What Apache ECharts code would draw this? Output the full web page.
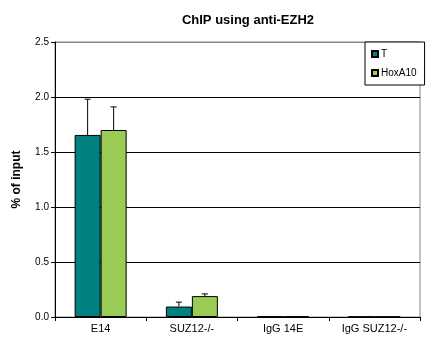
<!DOCTYPE html>
<html><head><meta charset="utf-8">
<script src="https://cdn.jsdelivr.net/npm/echarts@6/dist/echarts.min.js"></script>
<style>html,body{margin:0;padding:0;background:#fff}#c{width:440px;height:348px}</style>
</head><body><div id="c"></div>
<script>
const categories = ['E14', 'SUZ12-/-', 'IgG 14E', 'IgG SUZ12-/-'];
const seriesNames = ['T', 'HoxA10'];
const valuesT = [1.655, 0.095, 0.005, 0.004];
const valuesHox = [1.70, 0.19, 0.005, 0.004];
const errTop_T = [1.98, 0.135, null, null];
const errTop_Hox = [1.91, 0.21, null, null];
const yTicks = [0, 0.5, 1.0, 1.5, 2.0, 2.5];

const chart = echarts.init(document.getElementById('c'), null, {renderer: 'canvas'});
const font = 'Liberation Sans, Arial, sans-serif';
const BAR_W = 26;

function errSeries(vals, tops, offset) {
  return {
    type: 'custom',
    silent: true,
    z: 5,
    data: categories.map((c, i) => [i, vals[i], tops[i]]),
    renderItem: function (params, api) {
      const top = api.value(2);
      if (top === null || isNaN(top)) return null;
      const p0 = api.coord([api.value(0), api.value(1)]);
      const p1 = api.coord([api.value(0), top]);
      const x = p0[0] + offset;
      return {
        type: 'group',
        children: [
          {type: 'line', shape: {x1: x, y1: p0[1], x2: x, y2: p1[1]}, style: {stroke: '#000', lineWidth: 1}},
          {type: 'line', shape: {x1: x - 3, y1: p1[1], x2: x + 3, y2: p1[1]}, style: {stroke: '#000', lineWidth: 1}}
        ]
      };
    }
  };
}

chart.setOption({
  animation: false,
  backgroundColor: '#fff',
  title: {
    text: 'ChIP using anti-EZH2',
    left: 243, top: 9, textAlign: 'center',
    textStyle: {fontFamily: font, fontSize: 13, fontWeight: 'bold', color: '#000'}
  },
  legend: {
    data: seriesNames,
    orient: 'vertical',
    left: 365, top: 42,
    width: 56,
    padding: [7, 8, 7, 6],
    backgroundColor: '#fff',
    borderColor: '#000', borderWidth: 1,
    itemWidth: 6, itemHeight: 6, itemGap: 9,
    icon: 'rect',
    textStyle: {fontFamily: font, fontSize: 10, color: '#000', padding: [0, 0, 0, -2]},
    z: 10
  },
  grid: {left: 55, right: 20, top: 42, bottom: 31, show: true, borderColor: '#888', borderWidth: 1},
  xAxis: {
    type: 'category',
    data: categories,
    axisLine: {lineStyle: {color: '#000'}},
    axisTick: {show: true, inside: false, length: 4, lineStyle: {color: '#000'}},
    axisLabel: {fontFamily: font, fontSize: 11, color: '#000', margin: 6}
  },
  yAxis: {
    type: 'value',
    min: 0, max: 2.5, interval: 0.5,
    name: '% of input',
    nameLocation: 'middle',
    nameGap: 32,
    nameTextStyle: {fontFamily: font, fontSize: 12, fontWeight: 'bold', color: '#000'},
    axisLine: {show: true, lineStyle: {color: '#000'}},
    axisTick: {show: true, length: 4, lineStyle: {color: '#000'}},
    axisLabel: {fontFamily: font, fontSize: 10, color: '#000', margin: 6,
      formatter: v => v.toFixed(1)},
    splitLine: {show: true, lineStyle: {color: ['#000', '#000', '#000', '#000', '#000', '#888'], width: 1}}
  },
  series: [
    {name: 'T', type: 'bar', data: valuesT, barWidth: BAR_W, barGap: '0%',
      itemStyle: {color: '#008080', borderColor: '#000', borderWidth: 1}},
    {name: 'HoxA10', type: 'bar', data: valuesHox, barWidth: BAR_W, barGap: '0%',
      itemStyle: {color: '#99CC55', borderColor: '#000', borderWidth: 1}},
    errSeries(valuesT, errTop_T, -BAR_W / 2),
    errSeries(valuesHox, errTop_Hox, BAR_W / 2)
  ]
});
</script></body></html>
